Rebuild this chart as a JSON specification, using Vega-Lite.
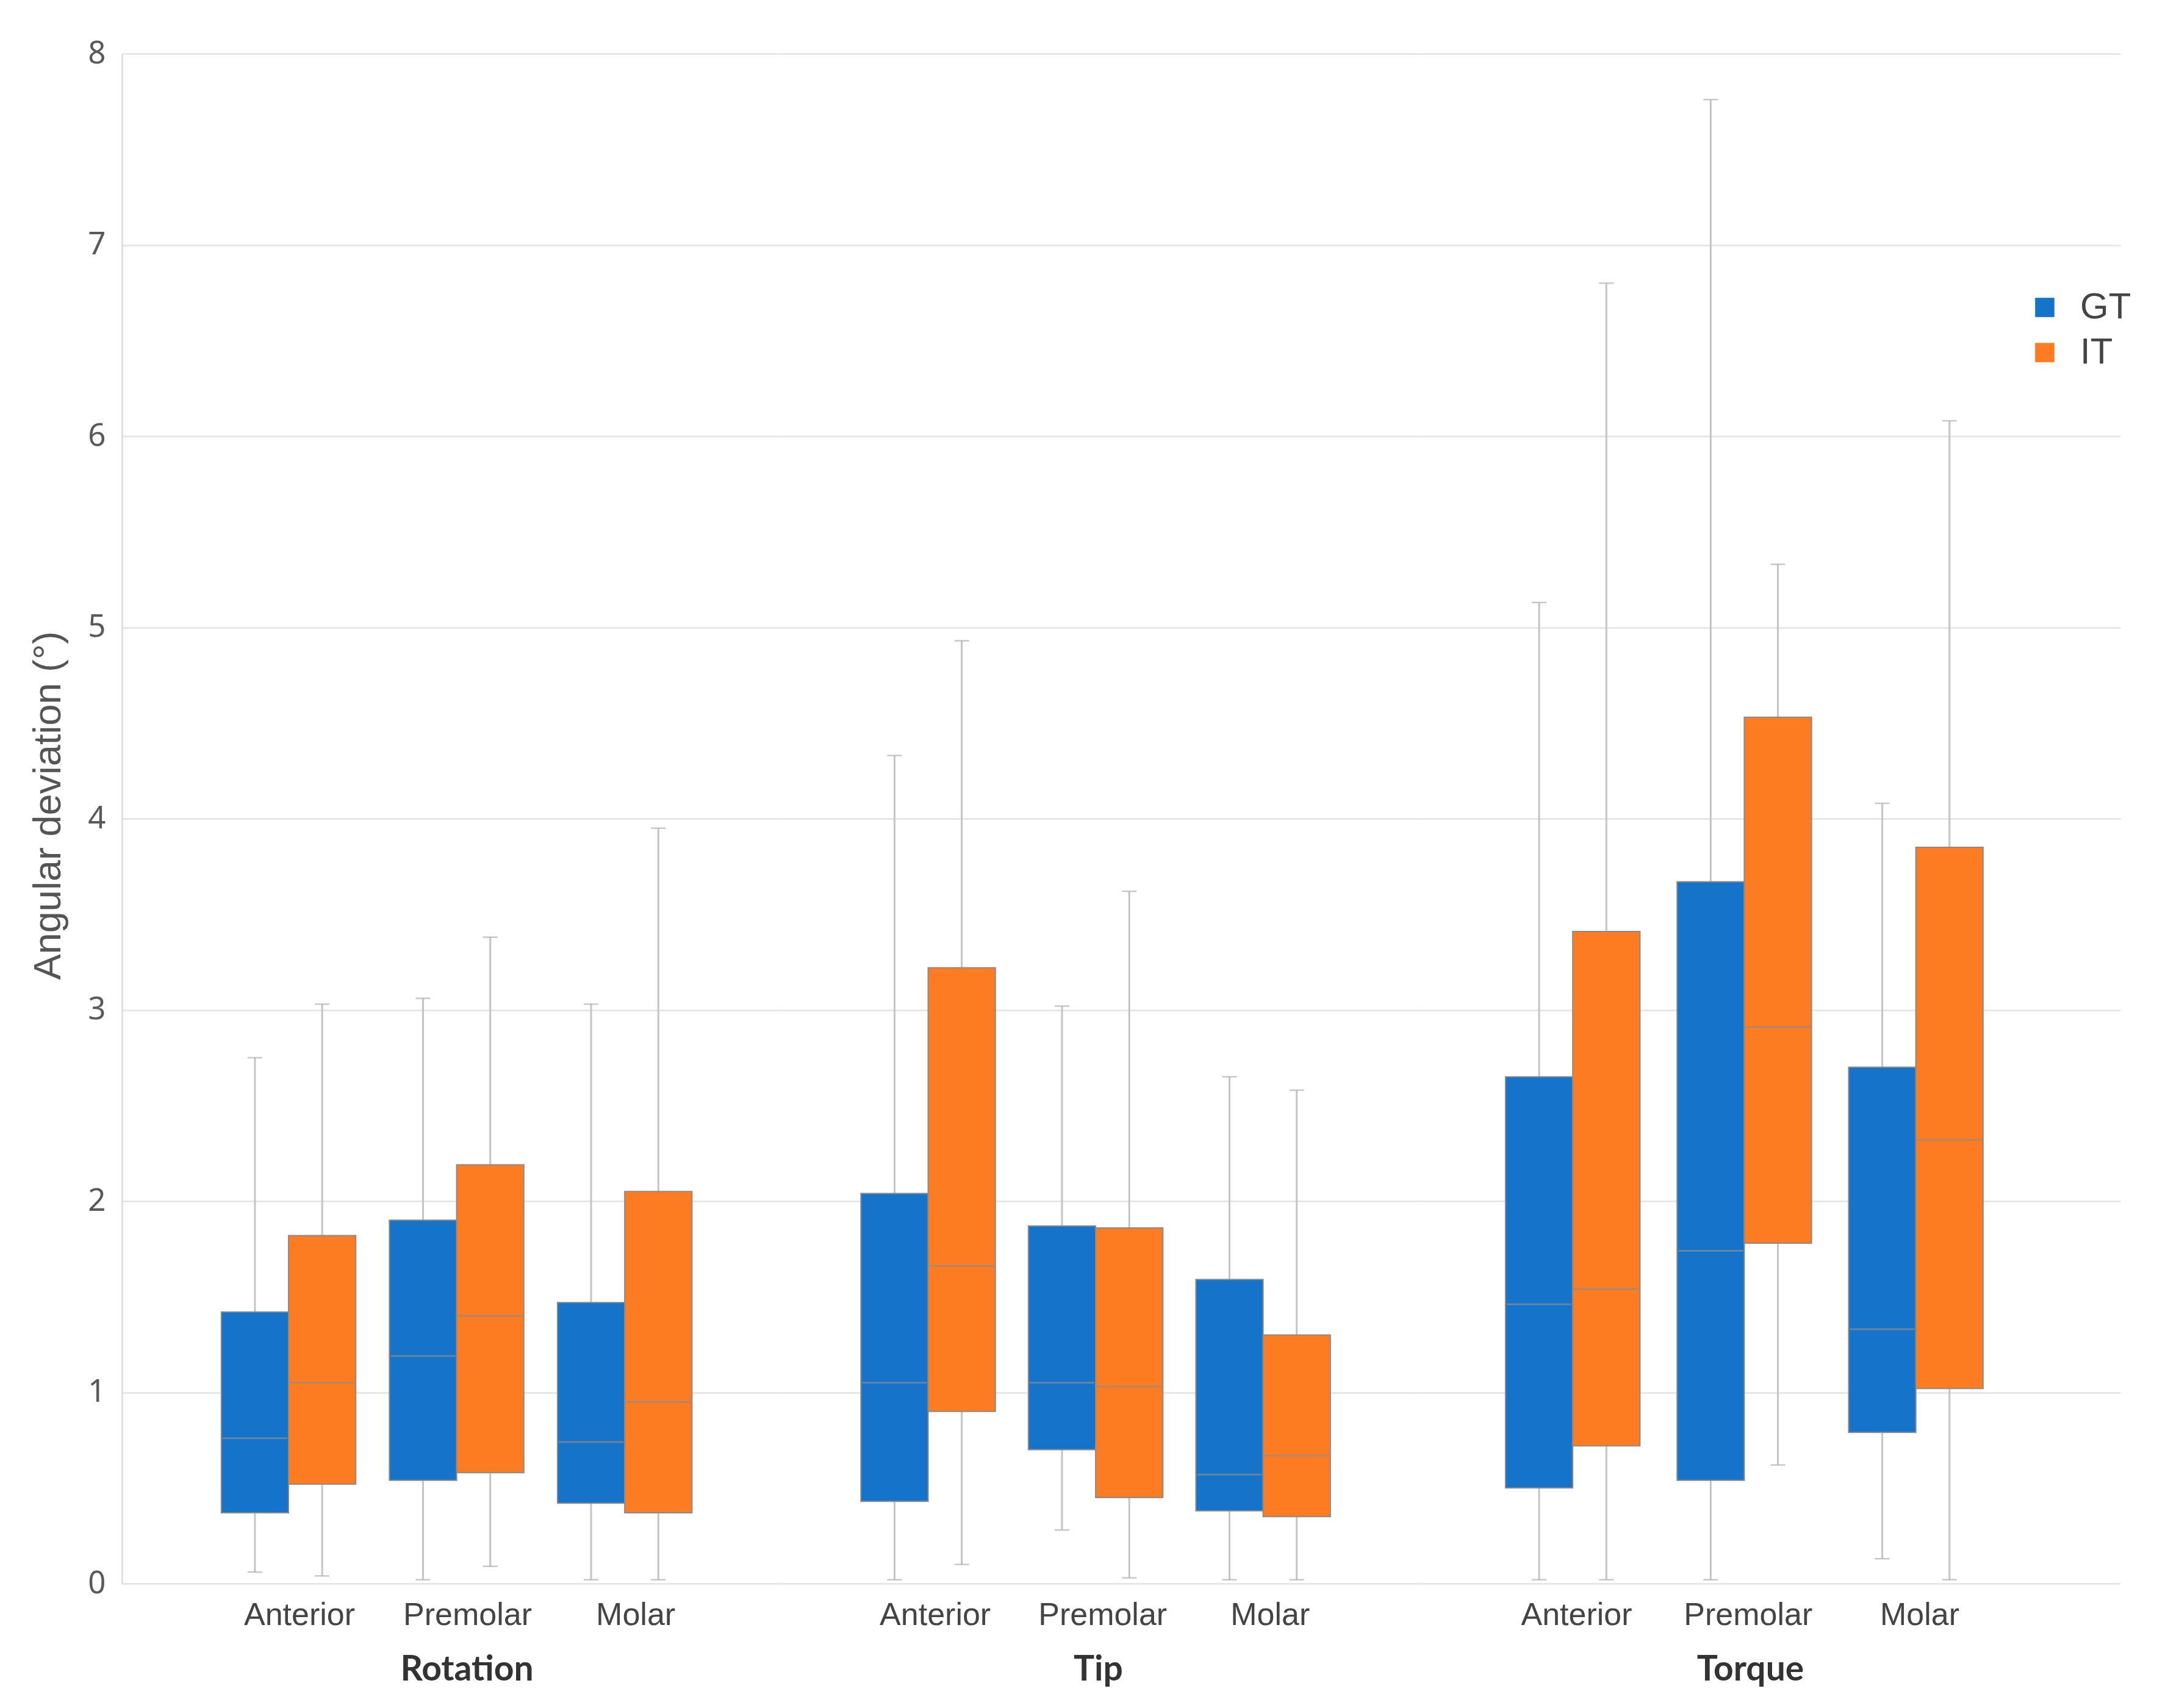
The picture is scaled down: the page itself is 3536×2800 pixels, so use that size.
{
  "$schema": "https://vega.github.io/schema/vega-lite/v6.json",
  "background": "white",
  "padding": {"left": 48, "top": 62, "right": 0, "bottom": 10},
  "spacing": 0,
  "data": {"values": [
    {"group": "Rotation", "tooth": "Anterior", "series": "GT", "lower": 0.06, "q1": 0.37, "median": 0.76, "q3": 1.42, "upper": 2.75},
    {"group": "Rotation", "tooth": "Anterior", "series": "IT", "lower": 0.04, "q1": 0.52, "median": 1.05, "q3": 1.82, "upper": 3.03},
    {"group": "Rotation", "tooth": "Premolar", "series": "GT", "lower": 0.02, "q1": 0.54, "median": 1.19, "q3": 1.90, "upper": 3.06},
    {"group": "Rotation", "tooth": "Premolar", "series": "IT", "lower": 0.09, "q1": 0.58, "median": 1.40, "q3": 2.19, "upper": 3.38},
    {"group": "Rotation", "tooth": "Molar", "series": "GT", "lower": 0.02, "q1": 0.42, "median": 0.74, "q3": 1.47, "upper": 3.03},
    {"group": "Rotation", "tooth": "Molar", "series": "IT", "lower": 0.02, "q1": 0.37, "median": 0.95, "q3": 2.05, "upper": 3.95},
    {"group": "Tip", "tooth": "Anterior", "series": "GT", "lower": 0.02, "q1": 0.43, "median": 1.05, "q3": 2.04, "upper": 4.33},
    {"group": "Tip", "tooth": "Anterior", "series": "IT", "lower": 0.10, "q1": 0.90, "median": 1.66, "q3": 3.22, "upper": 4.93},
    {"group": "Tip", "tooth": "Premolar", "series": "GT", "lower": 0.28, "q1": 0.70, "median": 1.05, "q3": 1.87, "upper": 3.02},
    {"group": "Tip", "tooth": "Premolar", "series": "IT", "lower": 0.03, "q1": 0.45, "median": 1.03, "q3": 1.86, "upper": 3.62},
    {"group": "Tip", "tooth": "Molar", "series": "GT", "lower": 0.02, "q1": 0.38, "median": 0.57, "q3": 1.59, "upper": 2.65},
    {"group": "Tip", "tooth": "Molar", "series": "IT", "lower": 0.02, "q1": 0.35, "median": 0.67, "q3": 1.30, "upper": 2.58},
    {"group": "Torque", "tooth": "Anterior", "series": "GT", "lower": 0.02, "q1": 0.50, "median": 1.46, "q3": 2.65, "upper": 5.13},
    {"group": "Torque", "tooth": "Anterior", "series": "IT", "lower": 0.02, "q1": 0.72, "median": 1.54, "q3": 3.41, "upper": 6.80},
    {"group": "Torque", "tooth": "Premolar", "series": "GT", "lower": 0.02, "q1": 0.54, "median": 1.74, "q3": 3.67, "upper": 7.76},
    {"group": "Torque", "tooth": "Premolar", "series": "IT", "lower": 0.62, "q1": 1.78, "median": 2.91, "q3": 4.53, "upper": 5.33},
    {"group": "Torque", "tooth": "Molar", "series": "GT", "lower": 0.13, "q1": 0.79, "median": 1.33, "q3": 2.70, "upper": 4.08},
    {"group": "Torque", "tooth": "Molar", "series": "IT", "lower": 0.02, "q1": 1.02, "median": 2.32, "q3": 3.85, "upper": 6.08}
  ]},
  "config": {
    "view": {"stroke": null},
    "axisX": {"domain": false, "ticks": false, "grid": false, "labelAngle": 0, "labelLimit": 0, "labelFont": "Liberation Sans", "labelFontSize": 52, "labelColor": "#444444", "labelPadding": 26, "titleFont": "Lato", "titleFontSize": 57, "titleFontWeight": "bold", "titleColor": "#333333", "titlePadding": 36},
    "axisY": {"grid": true, "gridColor": "#e3e3e3", "gridWidth": 2.5, "ticks": false, "domain": false},
    "legend": {"orient": "none", "legendX": 3122, "legendY": 386, "title": null, "symbolType": "square", "symbolSize": 1000, "symbolStrokeWidth": 0, "labelFont": "Liberation Sans", "labelFontSize": 60, "labelColor": "#444444", "labelOffset": 28, "rowPadding": 14, "padding": 0}
  },
  "resolve": {"scale": {"y": "shared", "color": "shared"}},
  "hconcat": [
    {
      "width": 1073, "height": 2508,
      "transform": [{"filter": "datum.group === 'Rotation'"}],
      "encoding": {
        "x": {"field": "tooth", "type": "nominal", "sort": ["Anterior", "Premolar", "Molar"], "scale": {"paddingInner": 0.2, "paddingOuter": 0.547, "align": 0.54}, "axis": {"title": "Rotation", "titleX": 565, "labelOffset": 18, "labelFont": "Liberation Sans"}},
        "xOffset": {"field": "series", "type": "nominal", "sort": ["GT", "IT"], "scale": {"paddingInner": 0, "paddingOuter": 0}}
      },
      "layer": [
        {"mark": {"type": "rule", "color": "#c4c4c4", "strokeWidth": 3}, "encoding": {"y": {"field": "lower", "type": "quantitative", "scale": {"domain": [0, 8], "nice": false, "zero": true}, "axis": {"values": [0, 1, 2, 3, 4, 5, 6, 7, 8], "format": "d", "title": "Angular deviation (°)", "titleY": 1232, "domain": true, "domainColor": "#e0e0e0", "domainWidth": 3, "labelFont": "Noto Sans", "labelFontSize": 51, "labelColor": "#595959", "labelPadding": 27, "titleFont": "Liberation Sans", "titleFontSize": 63, "titleFontWeight": "normal", "titleColor": "#555555", "titlePadding": 32}}, "y2": {"field": "upper"}}},
        {"mark": {"type": "bar", "stroke": "#8a8a8a", "strokeWidth": 2}, "encoding": {"y": {"field": "q1", "type": "quantitative"}, "y2": {"field": "q3"}, "color": {"field": "series", "type": "nominal", "scale": {"domain": ["GT", "IT"], "range": ["#1573c9", "#fd7c22"]}}}},
        {"mark": {"type": "tick", "color": "#8c8c8c", "thickness": 3, "size": 106}, "encoding": {"y": {"field": "median", "type": "quantitative"}}},
        {"mark": {"type": "tick", "color": "#b0b0b0", "thickness": 2.5, "size": 24}, "encoding": {"y": {"field": "lower", "type": "quantitative"}}},
        {"mark": {"type": "tick", "color": "#b0b0b0", "thickness": 2.5, "size": 24}, "encoding": {"y": {"field": "upper", "type": "quantitative"}}}
      ]
    },
    {
      "width": 1051, "height": 2508,
      "transform": [{"filter": "datum.group === 'Tip'"}],
      "encoding": {
        "x": {"field": "tooth", "type": "nominal", "sort": ["Anterior", "Premolar", "Molar"], "scale": {"paddingInner": 0.2, "paddingOuter": 0.514, "align": 0.49}, "axis": {"title": "Tip", "titleX": 527, "labelOffset": 12, "labelFont": "Liberation Sans"}},
        "xOffset": {"field": "series", "type": "nominal", "sort": ["GT", "IT"], "scale": {"paddingInner": 0, "paddingOuter": 0}}
      },
      "layer": [
        {"mark": {"type": "rule", "color": "#c4c4c4", "strokeWidth": 3}, "encoding": {"y": {"field": "lower", "type": "quantitative", "scale": {"domain": [0, 8], "nice": false, "zero": true}, "axis": {"values": [0, 1, 2, 3, 4, 5, 6, 7, 8], "title": null, "labels": false}}, "y2": {"field": "upper"}}},
        {"mark": {"type": "bar", "stroke": "#8a8a8a", "strokeWidth": 2}, "encoding": {"y": {"field": "q1", "type": "quantitative"}, "y2": {"field": "q3"}, "color": {"field": "series", "type": "nominal", "scale": {"domain": ["GT", "IT"], "range": ["#1573c9", "#fd7c22"]}}}},
        {"mark": {"type": "tick", "color": "#8c8c8c", "thickness": 3, "size": 106}, "encoding": {"y": {"field": "median", "type": "quantitative"}}},
        {"mark": {"type": "tick", "color": "#b0b0b0", "thickness": 2.5, "size": 24}, "encoding": {"y": {"field": "lower", "type": "quantitative"}}},
        {"mark": {"type": "tick", "color": "#b0b0b0", "thickness": 2.5, "size": 24}, "encoding": {"y": {"field": "upper", "type": "quantitative"}}}
      ]
    },
    {
      "width": 1152, "height": 2508,
      "transform": [{"filter": "datum.group === 'Torque'"}],
      "encoding": {
        "x": {"field": "tooth", "type": "nominal", "sort": ["Anterior", "Premolar", "Molar"], "scale": {"paddingInner": 0.2, "paddingOuter": 0.648, "align": 0.395}, "axis": {"title": "Torque", "titleX": 545, "labelOffset": 4, "labelFont": "Liberation Sans"}},
        "xOffset": {"field": "series", "type": "nominal", "sort": ["GT", "IT"], "scale": {"paddingInner": 0, "paddingOuter": 0}}
      },
      "layer": [
        {"mark": {"type": "rule", "color": "#c4c4c4", "strokeWidth": 3}, "encoding": {"y": {"field": "lower", "type": "quantitative", "scale": {"domain": [0, 8], "nice": false, "zero": true}, "axis": {"values": [0, 1, 2, 3, 4, 5, 6, 7, 8], "title": null, "labels": false}}, "y2": {"field": "upper"}}},
        {"mark": {"type": "bar", "stroke": "#8a8a8a", "strokeWidth": 2}, "encoding": {"y": {"field": "q1", "type": "quantitative"}, "y2": {"field": "q3"}, "color": {"field": "series", "type": "nominal", "scale": {"domain": ["GT", "IT"], "range": ["#1573c9", "#fd7c22"]}}}},
        {"mark": {"type": "tick", "color": "#8c8c8c", "thickness": 3, "size": 106}, "encoding": {"y": {"field": "median", "type": "quantitative"}}},
        {"mark": {"type": "tick", "color": "#b0b0b0", "thickness": 2.5, "size": 24}, "encoding": {"y": {"field": "lower", "type": "quantitative"}}},
        {"mark": {"type": "tick", "color": "#b0b0b0", "thickness": 2.5, "size": 24}, "encoding": {"y": {"field": "upper", "type": "quantitative"}}}
      ]
    }
  ]
}
